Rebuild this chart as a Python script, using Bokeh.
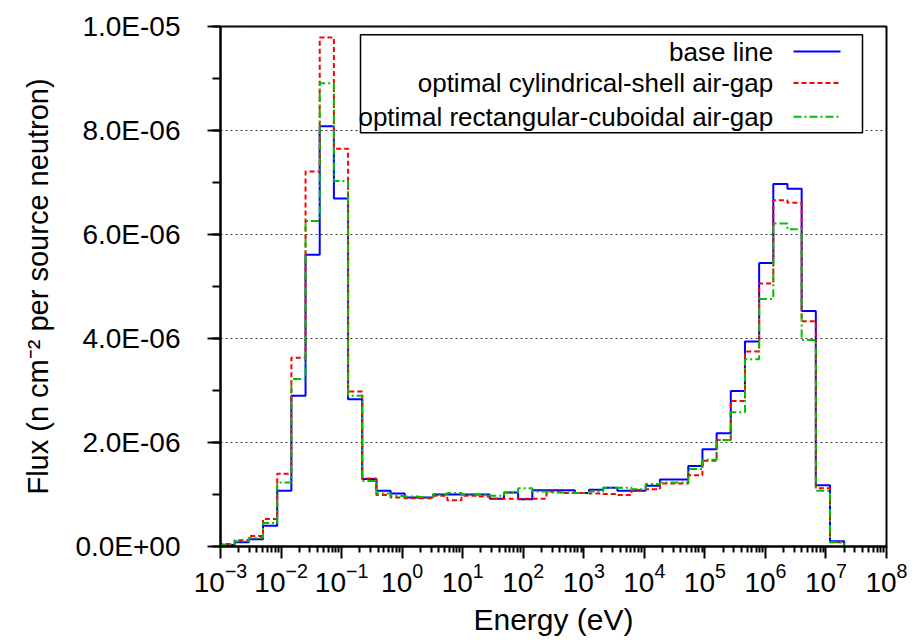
import numpy as np
from bokeh.plotting import figure
from bokeh.models import (Range1d, FixedTicker, SingleIntervalTicker, CustomJSTickFormatter,
                          BoxAnnotation, Label, Arrow)
from bokeh.embed import file_html
from bokeh.resources import INLINE

# ---- data -----------------------------------------------------------------
# energy group structure: 44 equal-lethargy groups between these bounds (eV)
E_MIN = 1e-3
E_MAX = 2e7
N_GROUPS = 44

# flux per group, in units of 1e-6 n cm^-2 per source neutron
base_line = [0.03, 0.08, 0.14, 0.40, 1.07, 2.90, 5.61, 8.08, 6.69, 2.83,
             1.30, 1.07, 1.02, 0.94, 0.94, 1.00, 1.00, 1.00, 1.00, 0.92,
             1.04, 0.91, 1.08, 1.08, 1.08, 1.03, 1.09, 1.13, 1.07, 1.07,
             1.17, 1.29, 1.29, 1.55, 1.87, 2.18, 2.99, 3.94, 5.45, 6.97,
             6.88, 4.53, 1.18, 0.10]
cyl_shell = [0.05, 0.12, 0.20, 0.53, 1.40, 3.63, 7.21, 9.79, 7.65, 2.98,
             1.31, 0.99, 0.94, 0.93, 0.93, 0.975, 0.89, 0.975, 0.96, 0.92,
             0.92, 0.92, 0.92, 1.06, 1.03, 1.03, 1.02, 1.01, 0.99, 1.085,
             1.10, 1.21, 1.21, 1.37, 1.65, 2.05, 2.80, 3.75, 5.06, 6.66,
             6.61, 4.33, 1.12, 0.08]
rect_cuboid = [0.04, 0.10, 0.17, 0.45, 1.23, 3.22, 6.26, 8.91, 7.03, 2.90,
               1.26, 1.02, 0.97, 0.96, 0.95, 1.01, 1.03, 1.00, 1.00, 0.975,
               1.04, 1.12, 1.06, 1.04, 1.04, 1.03, 1.06, 1.13, 1.13, 1.10,
               1.20, 1.23, 1.23, 1.49, 1.67, 2.05, 2.58, 3.60, 4.76, 6.21,
               6.10, 3.97, 1.07, 0.08]

series_names = ["base line",
                "optimal cylindrical-shell air-gap",
                "optimal rectangular-cuboidal air-gap"]

x_major_ticks = [1e-3, 1e-2, 1e-1, 1e0, 1e1, 1e2, 1e3, 1e4, 1e5, 1e6, 1e7, 1e8]
y_tick_interval = 2e-6
y_max = 1e-5

# ---- styles ---------------------------------------------------------------
FONT = "Liberation Sans"
colors = ["#0000ff", "#ff0000", "#00c000"]
dashes = ["solid", "5 3", "8 3 2 3"]

p = figure(width=915, height=644, x_axis_type="log",
           x_range=Range1d(x_major_ticks[0], x_major_ticks[-1]),
           y_range=Range1d(0, y_max),
           output_backend="svg", toolbar_location=None,
           min_border_left=220, min_border_right=29,
           min_border_top=26, min_border_bottom=98)

edges = np.geomspace(E_MIN, E_MAX, N_GROUPS + 1)


def step_xy(vals):
    xs = np.repeat(edges, 2)
    ys = np.concatenate([[0.0], np.repeat(np.asarray(vals) * 1e-6, 2), [0.0]])
    return xs, ys


for vals, c, d in zip([base_line, cyl_shell, rect_cuboid], colors, dashes):
    xs, ys = step_xy(vals)
    p.line(xs, ys, line_color=c, line_width=2, line_dash=d)

# axes
minor = [m * t for t in x_major_ticks[:-1] for m in range(2, 10)]
p.xaxis.ticker = FixedTicker(ticks=x_major_ticks, minor_ticks=minor)
p.yaxis.ticker = SingleIntervalTicker(interval=y_tick_interval, num_minor_ticks=2)
p.yaxis.formatter = CustomJSTickFormatter(code="""
if (Math.abs(tick) < 1e-20) { return "0.0E+00"; }
const parts = tick.toExponential(1).split("e");
const e = parseInt(parts[1]);
const sign = e < 0 ? "-" : "+";
const a = Math.abs(e);
return parts[0] + "E" + sign + (a < 10 ? "0" : "") + a;
""")

p.xaxis.axis_label = "Energy (eV)"
p.yaxis.axis_label = "Flux (n cm\u207b\u00b2 per source neutron)"

for ax in (p.xaxis, p.yaxis):
    ax.axis_line_width = 2
    ax.axis_line_color = "black"
    ax.major_tick_line_width = 2
    ax.minor_tick_line_width = 2
    ax.major_tick_line_color = "black"
    ax.minor_tick_line_color = "black"
    ax.major_tick_in = 0
    ax.minor_tick_in = 0
    ax.major_label_text_font = FONT
    ax.major_label_text_font_size = "28px"
    ax.major_label_text_color = "black"
    ax.axis_label_text_font = FONT
    ax.axis_label_text_font_style = "normal"
    ax.axis_label_text_color = "black"

p.xaxis.axis_label_text_font_size = "30px"
p.yaxis.axis_label_text_font_size = "29px"
p.xaxis.major_tick_out = 12
p.xaxis.minor_tick_out = 6
p.xaxis.major_label_standoff = 4
p.xaxis.axis_label_standoff = 8
p.yaxis.major_tick_out = 13
p.yaxis.minor_tick_out = 8
p.yaxis.major_label_standoff = 27
p.yaxis.axis_label_standoff = 18

p.xgrid.visible = False
p.ygrid.grid_line_color = "#333333"
p.ygrid.grid_line_width = 1
p.ygrid.grid_line_dash = "2 3"

p.outline_line_color = "black"
p.outline_line_width = 2
p.outline_line_alpha = 1
p.background_fill_color = "white"
p.border_fill_color = "white"

# ---- legend (labels right-aligned, samples on the right) -----------------
p.add_layout(BoxAnnotation(left=140, right=642, top=511.7, bottom=413.7,
                           left_units="screen", right_units="screen",
                           top_units="screen", bottom_units="screen",
                           fill_color="white", fill_alpha=1,
                           line_color="black", line_width=1.5, line_alpha=1))
row_y = [495, 463.4, 429.7]
for name, c, d, yy in zip(series_names, colors, dashes, row_y):
    p.add_layout(Label(x=552.7, y=yy, x_units="screen", y_units="screen",
                       text=name, text_align="right", text_baseline="middle",
                       text_font=FONT, text_font_size="26px", text_color="black"))
    p.add_layout(Arrow(end=None, x_start=573, y_start=yy, x_end=620, y_end=yy,
                       start_units="screen", end_units="screen",
                       line_color=c, line_width=2, line_dash=d))

open("out.html", "w").write(file_html(p, INLINE))
